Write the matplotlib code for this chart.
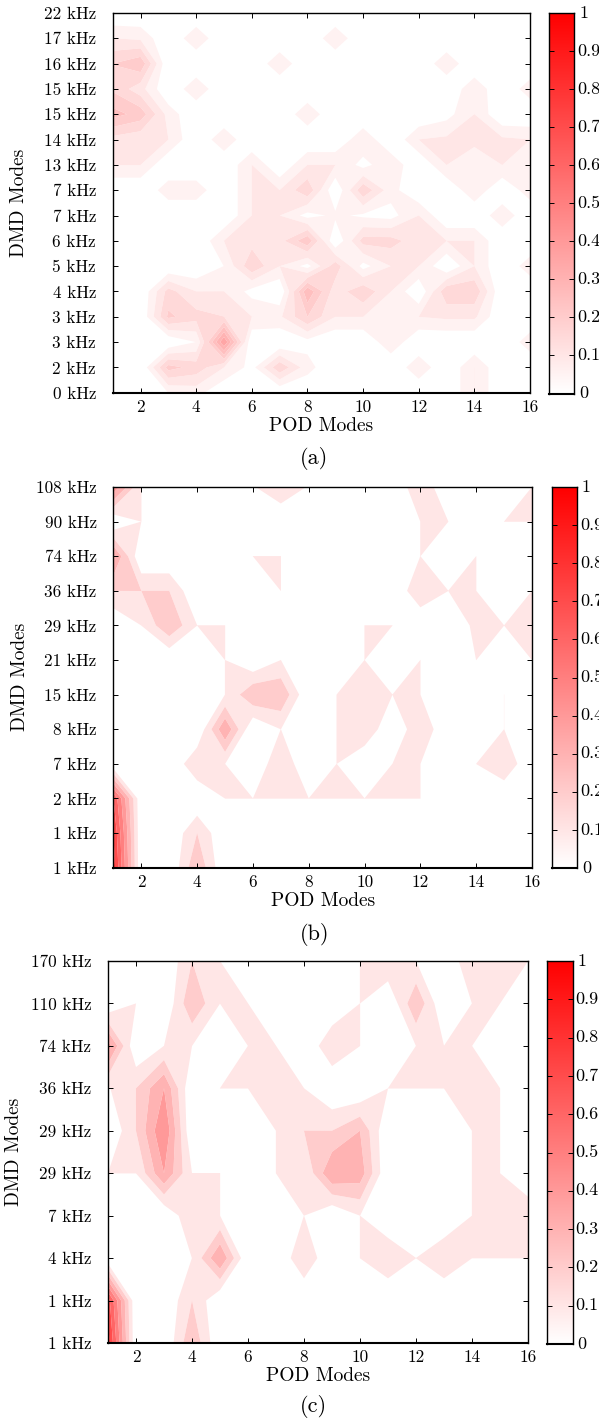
import matplotlib
matplotlib.use("Agg")
import matplotlib.pyplot as plt
import numpy as np
from matplotlib.colors import LinearSegmentedColormap

W, H = 599, 1421

pod_modes = np.arange(1, 17)
pod_ticks = [2, 4, 6, 8, 10, 12, 14, 16]
cbar_ticks = [0, 0.1, 0.2, 0.3, 0.4, 0.5, 0.6, 0.7, 0.8, 0.9, 1]
cbar_labels = ["0", "0.1", "0.2", "0.3", "0.4", "0.5", "0.6", "0.7", "0.8", "0.9", "1"]

# rows run from the lowest frequency label up to the highest
labels_a = ["0 kHz", "2 kHz", "3 kHz", "3 kHz", "4 kHz", "5 kHz", "6 kHz", "7 kHz",
            "7 kHz", "13 kHz", "14 kHz", "15 kHz", "15 kHz", "16 kHz", "17 kHz", "22 kHz"]
values_a = [
    [0, 0, .05, .07, 0, 0, 0, 0, 0, 0, 0, 0, 0, .1, 0, 0],
    [0, 0, .22, .18, .1, .03, .19, .07, 0, 0, 0, .09, 0, .1, 0, 0],
    [0, 0, 0, .05, .4, 0, 0, .03, 0, 0, .09, 0, 0, 0, 0, .08],
    [0, 0, .21, .17, .15, .1, .09, .2, .1, .1, .05, .1, .11, .11, 0, 0],
    [0, 0, .17, .1, .1, .03, 0, .29, .12, .19, .1, 0, .19, .19, 0, 0],
    [0, 0, 0, 0, .05, .19, .1, .03, .18, .03, .1, .1, 0, .1, 0, .08],
    [0, 0, 0, 0, .1, .13, .13, .24, 0, .17, .17, .12, .1, .1, 0, 0],
    [0, 0, 0, 0, 0, .1, .1, .03, .06, .04, .03, .1, 0, 0, .09, 0],
    [0, 0, .08, .08, 0, .1, .1, .19, 0, .19, .07, 0, 0, .09, 0, .08],
    [.1, .1, 0, 0, 0, .1, 0, .1, .1, .03, .09, 0, .1, .05, .1, .05],
    [.13, .11, .1, 0, .09, 0, 0, 0, 0, .09, 0, .1, .11, .12, .11, .1],
    [.27, .23, .08, 0, 0, 0, 0, .09, 0, 0, 0, 0, .03, .1, 0, 0],
    [.19, .12, 0, .09, 0, 0, 0, 0, 0, 0, 0, 0, 0, .09, 0, .08],
    [.2, .24, 0, 0, 0, 0, .09, 0, 0, 0, 0, 0, .09, 0, 0, 0],
    [.1, .09, 0, .09, 0, 0, 0, 0, .09, 0, 0, 0, 0, 0, 0, 0],
    [0, 0, 0, 0, 0, 0, 0, 0, 0, 0, 0, 0, 0, 0, 0, 0],
]

labels_b = ["1 kHz", "1 kHz", "2 kHz", "7 kHz", "8 kHz", "15 kHz", "21 kHz", "29 kHz",
            "36 kHz", "74 kHz", "90 kHz", "108 kHz"]
values_b = [
    [.85, 0, 0, .29, 0, 0, 0, 0, 0, 0, 0, 0, 0, 0, 0, 0],
    [.8, 0, 0, .2, 0, 0, 0, 0, 0, 0, 0, 0, 0, 0, 0, 0],
    [.7, 0, 0, 0, .1, .1, .1, .1, .1, .1, .1, .1, 0, 0, 0, 0],
    [0, 0, 0, .19, .1, 0, .19, 0, .1, 0, .1, .1, 0, .1, .19, 0],
    [0, 0, 0, 0, .39, 0, .1, 0, .1, .19, 0, .19, 0, 0, .1, 0],
    [0, 0, 0, 0, .1, .29, .29, 0, .1, .15, .1, .1, 0, 0, .1, 0],
    [0, 0, 0, 0, .1, 0, .1, 0, 0, .1, 0, .1, 0, .1, 0, .1],
    [0, .1, .29, .1, .1, 0, 0, 0, 0, .1, .1, 0, 0, .13, .1, .15],
    [.2, .2, .2, 0, 0, 0, .1, 0, 0, 0, 0, .19, .1, .1, 0, .1],
    [.42, 0, 0, 0, 0, .1, .1, 0, 0, 0, 0, .1, 0, .1, 0, 0],
    [0, .1, 0, 0, 0, 0, 0, 0, 0, 0, 0, .1, .1, 0, .1, .1],
    [.48, .1, 0, 0, 0, .09, .19, .09, 0, 0, 0, .19, 0, 0, 0, .1],
]

labels_c = ["1 kHz", "1 kHz", "4 kHz", "7 kHz", "29 kHz", "29 kHz", "36 kHz", "74 kHz",
            "110 kHz", "170 kHz"]
values_c = [
    [.85, 0, 0, .29, 0, 0, 0, 0, 0, 0, 0, 0, 0, 0, 0, 0],
    [.75, 0, 0, .2, 0, 0, 0, 0, 0, 0, 0, 0, 0, 0, 0, 0],
    [0, 0, 0, .1, .4, 0, 0, .19, 0, .1, .19, .1, .19, .1, .1, .1],
    [0, 0, 0, .19, .1, 0, 0, .1, 0, .1, 0, 0, 0, .1, .15, .18],
    [.1, .1, .4, .1, .1, 0, .1, .1, .4, .36, 0, 0, 0, .1, .1, 0],
    [0, .2, .5, 0, 0, 0, .1, .2, .2, .3, 0, 0, 0, .1, .1, 0],
    [.09, .2, .4, 0, .1, .1, .15, .1, 0, 0, .1, .1, .1, .15, .1, 0],
    [.45, 0, .1, .1, 0, .1, .1, 0, .19, .1, 0, .1, .1, .1, 0, 0],
    [0, .1, 0, .29, .1, .1, 0, 0, 0, .1, 0, .29, 0, .1, .1, 0],
    [0, 0, 0, .2, .1, 0, 0, 0, 0, .1, .19, .1, 0, .19, .1, .1],
]

plt.rcParams["font.family"] = ["cmr10", "Liberation Serif"]
plt.rcParams["axes.unicode_minus"] = False
plt.rcParams["axes.formatter.use_mathtext"] = True
FS = 12.3
LABEL_FS = 14
CAPTION_FS = 16

red_scale = LinearSegmentedColormap.from_list("white_red", ["#ffffff", "#ff0000"])


def px_axes(fig, left, top, right, bottom):
    # Axes from pixel edges.
    ax = fig.add_axes([left / W, 1 - bottom / H, (right - left) / W, (bottom - top) / H])
    for spine in ax.spines.values():
        spine.set_linewidth(1.0)
    ax.spines["bottom"].set_linewidth(1.5)
    return ax


def draw_panel(fig, values, labels, step, box, cbar_box, caption, label_x, xlabel_y, caption_x, caption_y):
    left, top, right, bottom = box
    ax = px_axes(fig, left, top, right, bottom)
    rows = np.arange(len(labels))

    # Each band takes the colour of its lower level, as in the original.
    n = int(round(1 / step))
    bounds = [i * step - 0.0005 for i in range(n + 1)] + [1.01]
    colors = [(1, 1 - i * step, 1 - i * step) for i in range(n + 1)]
    ax.contourf(pod_modes, rows, np.array(values), levels=bounds, colors=colors, antialiased=True)

    ax.set_xlim(1, 16)
    ax.set_ylim(0, len(labels) - 1)
    ax.set_xticks(pod_ticks)
    ax.set_xticklabels([str(t) for t in pod_ticks], fontsize=FS)
    ax.set_yticks(rows)
    ax.set_yticklabels(labels, fontsize=FS)
    ax.tick_params(direction="in", top=True, right=True, length=3.5, width=0.7)
    ax.tick_params(axis="x", pad=5)
    ax.tick_params(axis="y", pad=12)

    fig.text((left + right) / 2 / W, 1 - xlabel_y / H, "POD Modes", fontsize=LABEL_FS, ha="center", va="center")
    fig.text(label_x / W, 1 - (top + bottom) / 2 / H, "DMD Modes", fontsize=LABEL_FS, rotation=90, ha="center", va="center")
    fig.text(caption_x / W, 1 - caption_y / H, caption, fontsize=CAPTION_FS, ha="center", va="center")

    cax = px_axes(fig, *cbar_box)
    cax.imshow(np.linspace(0, 1, 256).reshape(-1, 1), cmap=red_scale, aspect="auto", origin="lower", extent=[0, 1, 0, 1], vmin=0, vmax=1)
    cax.set_xticks([])
    cax.set_yticks(cbar_ticks)
    cax.set_yticklabels([])
    cax.tick_params(axis="y", direction="in", left=True, right=True, length=3.5, width=0.7)
    # the single digit labels sit a little further out than the decimals
    for tick, text in zip(cbar_ticks, cbar_labels):
        shift = 5 if len(text) == 1 else 3
        cax.annotate(text, (1, tick), xycoords="axes fraction", xytext=(shift * 0.72, 0),
                     textcoords="offset points", fontsize=FS + 0.7, va="center", ha="left",
                     annotation_clip=False)


fig = plt.figure(figsize=(W / 100, H / 100), dpi=100)

draw_panel(fig, values_a, labels_a, 0.05, (112.7, 13, 530, 392.7), (549.3, 13, 574, 393.5), "(a)", 19, 426, 314, 458)
draw_panel(fig, values_b, labels_b, 0.1, (113.4, 487, 532, 867.7), (551.6, 487, 576.8, 868), "(b)", 20, 901, 315, 935)
draw_panel(fig, values_c, labels_c, 0.1, (108, 961, 528, 1343), (547.4, 961, 572.6, 1344), "(c)", 14, 1376, 313, 1407)

fig.savefig("out.png", dpi=100)
